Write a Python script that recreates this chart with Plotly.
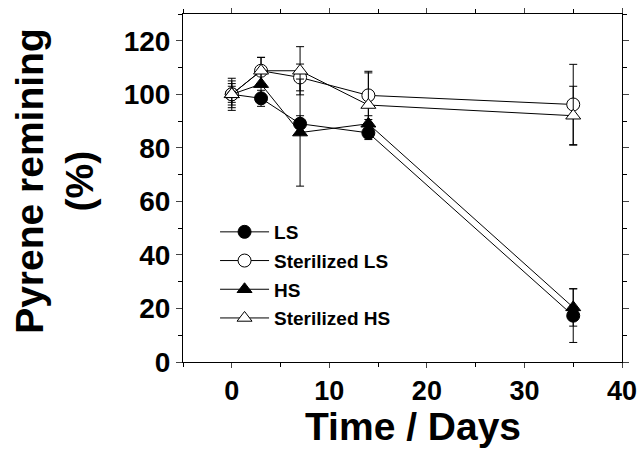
import plotly.graph_objects as go

days = [0, 3, 7, 14, 35]
ls = [100, 98.5, 89, 85.6, 17.3]
ls_err = [3, 3, 3, 2.5, 10]
st_ls = [100, 108.8, 106.3, 99.6, 96.2]
st_ls_err = [5, 5, 5, 9, 15]
hs = [100, 103.8, 85.7, 89, 20.4]
hs_err = [4, 4, 20, 3, 7]
st_hs = [100, 108.8, 108.8, 96, 92]
st_hs_err = [6, 5, 9, 12, 11]

x_ticks = [0, 10, 20, 30, 40]
y_ticks = [0, 20, 40, 60, 80, 100, 120]

series = [
    ("LS", ls, ls_err, "circle", "black"),
    ("Sterilized LS", st_ls, st_ls_err, "circle", "white"),
    ("HS", hs, hs_err, "triangle-up", "black"),
    ("Sterilized HS", st_hs, st_hs_err, "triangle-up", "white"),
]

fig = go.Figure()
for name, y, err, sym, fill in series:
    fig.add_trace(go.Scatter(
        x=days, y=y, name=name, mode="lines+markers", legendgroup=name,
        line=dict(color="black", width=1),
        marker=dict(symbol=sym, size=13, color=fill, line=dict(color="black", width=1)),
        error_y=dict(type="data", array=err, visible=True, color="black", thickness=1, width=4),
    ))

font = "Liberation Sans, Arial, sans-serif"
fig.update_layout(
    width=640, height=449,
    margin=dict(l=183, r=18, t=14, b=87),
    paper_bgcolor="white", plot_bgcolor="white",
    font=dict(family=font, color="black"),
    showlegend=True,
    legend=dict(x=0.073, y=0.25, xanchor="left", yanchor="middle",
                font=dict(size=19, family=font, weight="bold"),
                bgcolor="rgba(0,0,0,0)", tracegroupgap=1, itemwidth=49),
    xaxis=dict(range=[-5, 40], tickvals=x_ticks, ticks="outside", ticklen=5, automargin=False,
               showline=True, linecolor="black", linewidth=1, mirror="ticks", showgrid=False,
               zeroline=False, tickfont=dict(size=27, weight="bold"),
               minor=dict(tickvals=[-5, 5, 15, 25, 35], ticks="outside", ticklen=4, tickcolor="black")),
    yaxis=dict(range=[0, 130], tickvals=y_ticks, ticks="outside", ticklen=6, automargin=False,
               showline=True, linecolor="black", linewidth=1, mirror="ticks", showgrid=False,
               zeroline=False, tickfont=dict(size=28, weight="bold"),
               minor=dict(tickvals=[10, 30, 50, 70, 90, 110, 130], ticks="outside", ticklen=4, tickcolor="black")),
    annotations=[
        dict(text="<b>Time / Days</b>", xref="paper", yref="paper", x=0.524, y=-0.185,
             xanchor="center", yanchor="middle", showarrow=False, font=dict(size=39, family=font)),
        dict(text="<b>Pyrene remining<br>(%)</b>", xref="paper", yref="paper", x=-0.292, y=0.52,
             xanchor="center", yanchor="middle", showarrow=False, textangle=-90,
             font=dict(size=39, family=font)),
    ],
)
fig.write_html("out.html", config={"displayModeBar": False},
               post_script="document.body.style.margin='0';")
